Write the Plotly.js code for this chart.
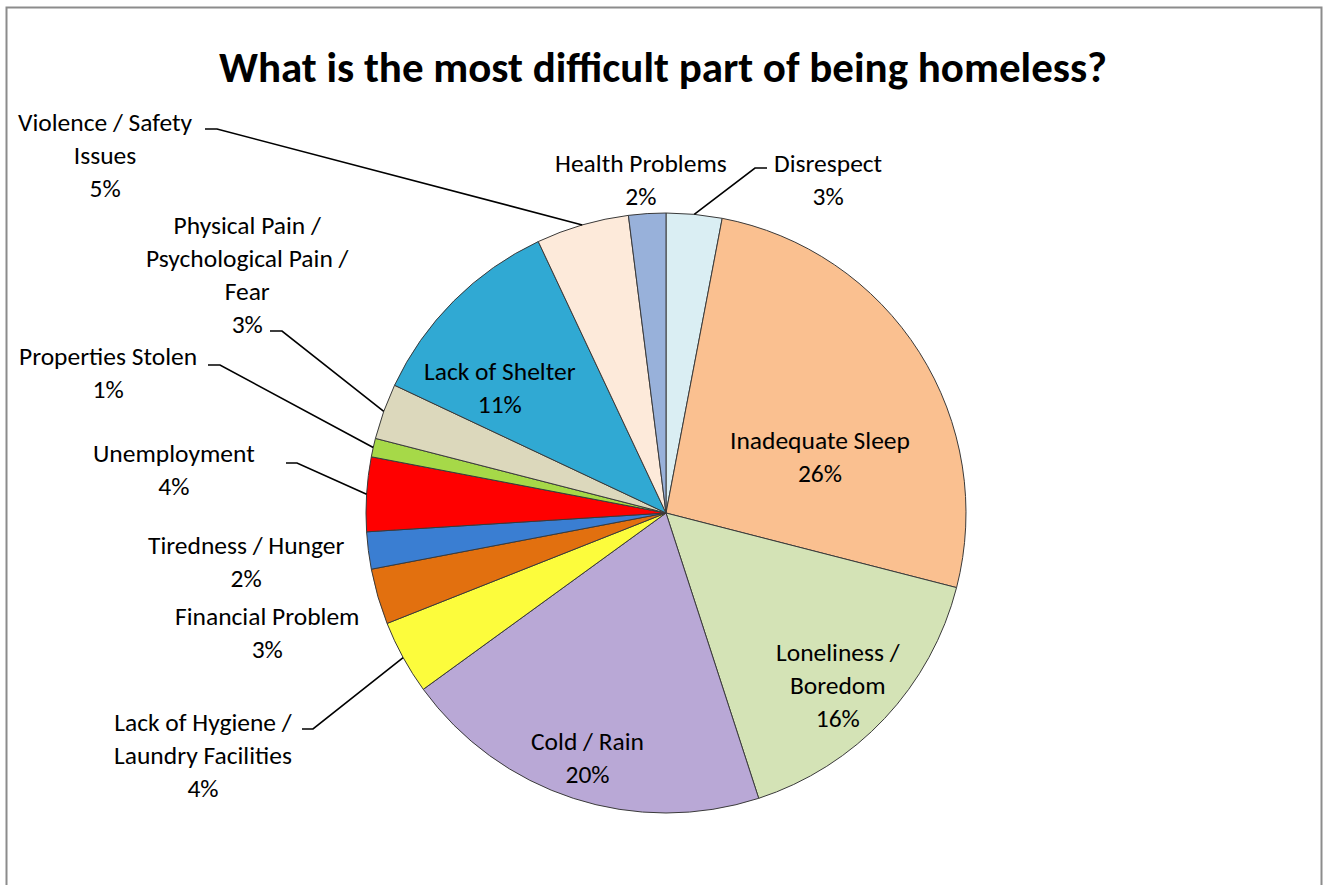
<!DOCTYPE html>
<html>
<head>
<meta charset="utf-8">
<script src="https://cdn.plot.ly/plotly-3.0.1.min.js"></script>
<style>html,body{margin:0;padding:0;background:#fff;}#chart{width:1326px;height:885px;}</style>
</head>
<body>
<div id="chart"></div>
<script>
// ---- data ----
const categories = ["Disrespect", "Inadequate Sleep", "Loneliness / Boredom", "Cold / Rain",
  "Lack of Hygiene / Laundry Facilities", "Financial Problem", "Tiredness / Hunger", "Unemployment",
  "Properties Stolen", "Physical Pain / Psychological Pain / Fear", "Lack of Shelter",
  "Violence / Safety Issues", "Health Problems"];
const values = [3, 26, 16, 20, 4, 3, 2, 4, 1, 3, 11, 5, 2];
const labelText = ["Disrespect", "Inadequate Sleep", "Loneliness /<br>Boredom", "Cold / Rain",
  "Lack of Hygiene /<br>Laundry Facilities", "Financial Problem", "Tiredness / Hunger", "Unemployment",
  "Properties Stolen", "Physical Pain /<br>Psychological Pain /<br>Fear", "Lack of Shelter",
  "Violence / Safety<br>Issues", "Health Problems"];
const colors = ["#DAEEF3", "#FAC090", "#D4E3B6", "#B9A8D6", "#FCFC3C", "#E2700F", "#3A7ED2", "#FF0000",
  "#A6D948", "#DCD8BC", "#30A9D3", "#FDEADA", "#98B1DA"];

// ---- layout config (pixel positions of label blocks and leader lines) ----
const W = 1326, H = 885;
const CX = 666, CY = 513, R = 300;
const labelPos = [[828,180],[820,457],[838,685],[587,758],[203,755],[267,633],[246,562],[174,470],
  [108,373],[247,275],[500,388],[105,155],[641,180]];
// leader: [start x, end of horizontal x, y] or null
const leaders = [[767,755,168], null, null, null, [302,313,729], null, null, [286,297,463],
  [208,220,365], [270,282,331], null, [205,217,129], null];

const px = x => x / W;
const py = y => 1 - y / H;
const FONT = "Carlito, Calibri, Lato, sans-serif";

const total = values.reduce((a, b) => a + b, 0);
let cum = 0;
const annotations = [];
const shapes = [];
values.forEach((v, i) => {
  const pct = Math.round(v / total * 100);
  const mid = (cum + v / 2) / total;
  cum += v;
  const th = mid * 2 * Math.PI;
  const ex = CX + R * Math.sin(th), ey = CY - R * Math.cos(th);
  annotations.push({
    text: labelText[i] + "<br>" + pct + "%",
    x: px(labelPos[i][0]), y: py(labelPos[i][1]), xref: "paper", yref: "paper",
    xanchor: "center", yanchor: "middle", showarrow: false, align: "center",
    font: {family: FONT, size: 25.5, color: "#000"}
  });
  const L = leaders[i];
  if (L) {
    shapes.push({
      type: "path", xref: "paper", yref: "paper",
      path: `M ${px(L[0])} ${py(L[2])} L ${px(L[1])} ${py(L[2])} L ${px(ex)} ${py(ey)}`,
      line: {color: "#000", width: 1.6}
    });
  }
});

// chart border (top, left, right)
shapes.push({type: "path", xref: "paper", yref: "paper",
  path: `M ${px(6.5)} ${py(900)} L ${px(6.5)} ${py(7.5)} L ${px(1321.5)} ${py(7.5)} L ${px(1321.5)} ${py(900)}`,
  line: {color: "#8C8C8C", width: 2}});

const trace = {
  type: "pie",
  labels: categories,
  values: values,
  sort: false,
  direction: "clockwise",
  rotation: 0,
  textinfo: "none",
  hoverinfo: "label+percent",
  marker: {colors: colors, line: {color: "#3A3A3A", width: 1}},
  domain: {x: [px(CX - R), px(CX + R)], y: [py(CY + R), py(CY - R)]},
  showlegend: false
};

const layout = {
  width: W, height: H,
  margin: {l: 0, r: 0, t: 0, b: 0},
  paper_bgcolor: "#FFFFFF",
  showlegend: false,
  title: {
    text: "<b>What is the most difficult part of being homeless?</b>",
    x: 0.5, xanchor: "center", y: py(67), yanchor: "middle", xref: "paper", yref: "paper",
    font: {family: FONT, size: 43, color: "#000"}
  },
  annotations: annotations,
  shapes: shapes
};

Plotly.newPlot("chart", [trace], layout, {displayModeBar: false, staticPlot: true});
</script>
</body>
</html>
